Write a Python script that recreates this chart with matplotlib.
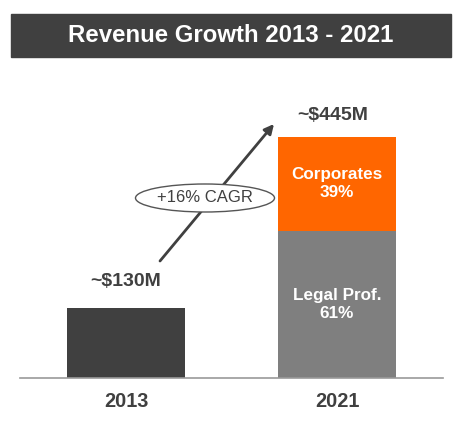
import matplotlib.pyplot as plt
from matplotlib.patches import Rectangle, Ellipse

plt.rcParams['font.family'] = ['Liberation Sans', 'DejaVu Sans']

years = ["2013", "2021"]
total_labels = ["~$130M", "~$445M"]
totals = [130, 445]
legal_share = [None, 61]
corp_share = [None, 39]
cagr_text = "+16% CAGR"

dark = "#404040"
grey = "#7f7f7f"
orange = "#ff6600"

fig = plt.figure(figsize=(4.6, 4.22), dpi=100)

# bar axes: baseline at y=378px, x from 20 to 443px
ax = fig.add_axes([20 / 460, (422 - 378) / 422, 423 / 460, 270.8 / 422])
ax.set_xlim(-0.502, 1.502)
ax.set_ylim(0, 500)
w = 0.559

legal = totals[1] * legal_share[1] / 100
corp = totals[1] * corp_share[1] / 100
ax.bar(0, totals[0], width=w, color=dark)
ax.bar(1, legal, width=w, color=grey)
ax.bar(1, corp, bottom=legal, width=w, color=orange)

ax.text(1, legal / 2, f"Legal Prof.\n{legal_share[1]}%", ha="center", va="center",
        color="white", fontsize=12.3, fontweight="bold", linespacing=1.25)
ax.text(1, legal + corp / 2, f"Corporates\n{corp_share[1]}%", ha="center", va="center",
        color="white", fontsize=12.3, fontweight="bold", linespacing=1.25)

offsets = [(0, 13), (-3, 9)]
for i, (t, lab) in enumerate(zip(totals, total_labels)):
    ax.annotate(lab, (i, t), xytext=offsets[i], textcoords="offset points",
                ha="center", va="bottom", color=dark, fontsize=14, fontweight="bold")

ax.set_xticks([0, 1])
ax.set_xticklabels(years, fontsize=14.3, fontweight="bold", color=dark)
ax.tick_params(axis="x", length=0, pad=10)
ax.set_yticks([])
for s in ["top", "left", "right"]:
    ax.spines[s].set_visible(False)
ax.spines["bottom"].set_color("#999999")
ax.spines["bottom"].set_linewidth(1.2)

# overlay in pixel coords for title and arrow
ov = fig.add_axes([0, 0, 1, 1], facecolor="none")
ov.set_xlim(0, 460)
ov.set_ylim(422, 0)
ov.axis("off")
ov.add_patch(Rectangle((11, 14), 440, 43, color=dark))
ov.text(231, 36, "Revenue Growth 2013 - 2021", ha="center", va="center",
        color="white", fontsize=17.3, fontweight="bold")
ov.annotate("", xy=(274, 124), xytext=(160, 261),
            arrowprops=dict(arrowstyle="-|>", color=dark, lw=2, mutation_scale=14,
                            shrinkA=0, shrinkB=0))

# the CAGR ellipse sits on top of the arrow
ov2 = fig.add_axes([0, 0, 1, 1], facecolor="none")
ov2.set_xlim(0, 460)
ov2.set_ylim(422, 0)
ov2.axis("off")
ov2.add_patch(Ellipse((205, 198), 139, 28, facecolor="white", edgecolor="#555555", lw=1))
ov2.text(205, 198, cagr_text, ha="center", va="center", color=dark, fontsize=12)

fig.savefig("out.png", dpi=100)
